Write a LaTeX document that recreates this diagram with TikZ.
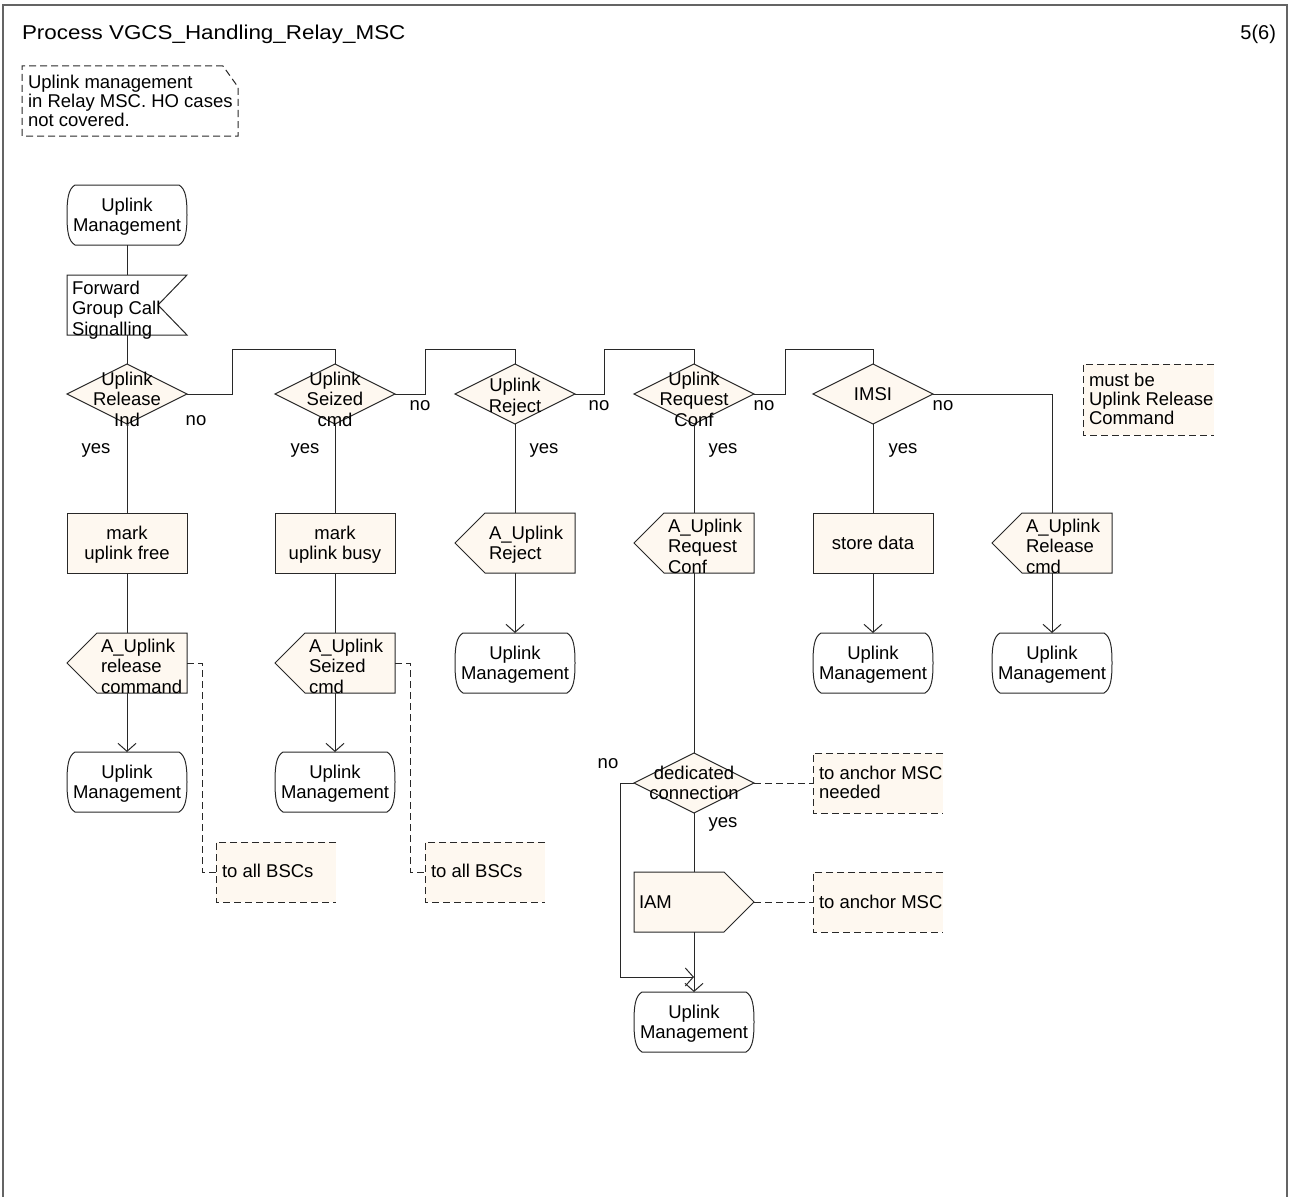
\documentclass[tikz,border=0pt]{standalone}
\usepackage{fontspec}
\setmainfont{Liberation Sans}
\newfontfamily\titlefnt{Liberation Sans}[FakeStretch=1.12]
\usetikzlibrary{arrows.meta,calc,backgrounds}
\definecolor{cream}{RGB}{254,248,240}
\definecolor{lc}{RGB}{40,40,40}
\definecolor{framegray}{RGB}{100,100,100}
\newcommand{\bodyfnt}{\fontsize{18.5}{20.5}\selectfont}
\newcommand{\cmtfnt}{\fontsize{18.5}{19.2}\selectfont}
\newcommand{\ctext}[2]{\raisebox{#1pt}[0pt][0pt]{\begin{tabular}[t]{@{}c@{}}#2\end{tabular}}}
\newcommand{\ltext}[4]{\makebox[#1pt][l]{\hspace*{#2pt}\raisebox{#3pt}[0pt][0pt]{\begin{tabular}[t]{@{}l@{}}#4\end{tabular}}}}
\begin{document}
\begin{tikzpicture}[x=1pt,y=-1pt,
  every node/.style={font=\bodyfnt, inner sep=0pt, outer sep=0pt, text=black},
  term/.style={minimum width=120, minimum height=60},
  task/.style={draw=lc, fill=cream, line width=1, minimum width=120, minimum height=60},
  dia/.style={minimum width=120, minimum height=60},
  sig/.style={minimum width=120, minimum height=60},
  cmt/.style={font=\cmtfnt},
  shp/.style={draw=lc, line width=1, fill=cream},
  wshp/.style={draw=lc, line width=1, fill=white},
  conn/.style={draw=lc, line width=1},
  arr/.style={conn, -{Straight Barb[length=8pt,width=18pt]}},
  cdash/.style={draw=lc, line width=1, dash pattern=on 7pt off 4pt},
  cfill/.style={fill=cream, draw=none},
]
\useasboundingbox (0,0) rectangle (1292,1196);
\draw[framegray, line width=1.5] (3,5) rectangle (1287,1230);

\node[anchor=base west, font=\titlefnt\fontsize{20}{24}\selectfont] (title) at (22,40) {Process VGCS\_Handling\_Relay\_MSC};
\node[anchor=base east, font=\fontsize{20}{24}\selectfont] (page) at (1276,40) {5(6)};

% note
\node[cmt, minimum width=216, minimum height=70] (note) at (130,101) {\ltext{216}{6}{12.7}{Uplink management\\in Relay MSC. HO cases\\not covered.}};

% column 1
\node[term] (s1) at (127,215) {\ctext{3.6}{Uplink\\Management}};
\node[sig] (in1) at (127,305) {\ltext{120}{5}{11}{Forward\\Group Call\\Signalling}};
\node[dia] (d1) at (127,394) {\ctext{9}{Uplink\\Release\\Ind}};
\node[task] (t1) at (127,543) {\ctext{3.6}{mark\\uplink free}};
\node[sig] (o1) at (127,663) {\ltext{120}{34}{11}{A\_Uplink\\release\\command}};
\node[term] (e1) at (127,782) {\ctext{3.6}{Uplink\\Management}};
\node[cmt, minimum width=120, minimum height=60] (cb1) at (276,872) {\ltext{120}{6}{-5.5}{to all BSCs}};

% column 2
\node[dia] (d2) at (335,394) {\ctext{9}{Uplink\\Seized\\cmd}};
\node[task] (t2) at (335,543) {\ctext{3.6}{mark\\uplink busy}};
\node[sig] (o2) at (335,663) {\ltext{120}{34}{11}{A\_Uplink\\Seized\\cmd}};
\node[term] (e2) at (335,782) {\ctext{3.6}{Uplink\\Management}};
\node[cmt, minimum width=120, minimum height=60] (cb2) at (485,872) {\ltext{120}{6}{-5.5}{to all BSCs}};

% column 3
\node[dia] (d3) at (515,394) {\ctext{2.3}{Uplink\\Reject}};
\node[sig] (o3) at (515,543) {\ltext{120}{34}{3.6}{A\_Uplink\\Reject}};
\node[term] (e3) at (515,663) {\ctext{3.6}{Uplink\\Management}};

% column 4
\node[dia] (d4) at (694,394) {\ctext{9}{Uplink\\Request\\Conf}};
\node[sig] (o4) at (694,543) {\ltext{120}{34}{11}{A\_Uplink\\Request\\Conf}};
\node[dia] (dd) at (694,783) {\ctext{3.6}{dedicated\\connection}};
\node[sig] (iam) at (694,902) {\ltext{120}{5}{-6}{IAM}};
\node[term] (e4) at (694,1022) {\ctext{3.6}{Uplink\\Management}};
\node[cmt, minimum width=130, minimum height=60] (cb3) at (878,783) {\ltext{130}{6}{3.3}{to anchor MSC\\needed}};
\node[cmt, minimum width=130, minimum height=60] (cb4) at (878,902) {\ltext{130}{6}{-6}{to anchor MSC}};

% column 5
\node[dia] (d5) at (873,394) {\ctext{-6}{IMSI}};
\node[task] (t5) at (873,543) {\ctext{-6.5}{store data}};
\node[term] (e5) at (873,663) {\ctext{3.6}{Uplink\\Management}};

% column 6
\node[sig] (o6) at (1052,543) {\ltext{120}{34}{11}{A\_Uplink\\Release\\cmd}};
\node[term] (e6) at (1052,663) {\ctext{3.6}{Uplink\\Management}};
\node[cmt, minimum width=131, minimum height=71] (cb5) at (1148.5,399.5) {\ltext{131}{6}{13}{must be\\Uplink Release\\Command}};

% labels
\node (yes1) at (96,450) {yes};
\node (yes2) at (305,450) {yes};
\node (yes3) at (544,450) {yes};
\node (yes4) at (723,450) {yes};
\node (yes5) at (903,450) {yes};
\node (yes6) at (723,824) {yes};
\node (no1) at (196,421) {no};
\node (no2) at (420,406) {no};
\node (no3) at (599,406) {no};
\node (no4) at (764,406) {no};
\node (no5) at (943,406) {no};
\node (no6) at (608,764) {no};

% shapes on background
\begin{scope}[on background layer]
  \fill[white] (0,0) rectangle (1292,1196);
  \foreach \n in {s1,e1,e2,e3,e4,e5,e6}{
    \draw[wshp] ($(\n.north west)+(8,0)$) -- ($(\n.north east)+(-8,0)$)
      .. controls ($(\n.north east)+(-1,4)$) and ($(\n.north east)+(0,15)$) .. ($(\n.east)$)
      .. controls ($(\n.south east)+(0,-15)$) and ($(\n.south east)+(-1,-4)$) .. ($(\n.south east)+(-8,0)$)
      -- ($(\n.south west)+(8,0)$)
      .. controls ($(\n.south west)+(1,-4)$) and ($(\n.south west)+(0,-15)$) .. ($(\n.west)$)
      .. controls ($(\n.north west)+(0,15)$) and ($(\n.north west)+(1,4)$) .. cycle;
  }
  \foreach \n in {d1,d2,d3,d4,d5,dd}{
    \draw[shp] (\n.west) -- (\n.north) -- (\n.east) -- (\n.south) -- cycle;
  }
  \foreach \n in {o1,o2,o3,o4,o6}{
    \draw[shp] (\n.west) -- ($(\n.north west)+(30,0)$) -- (\n.north east) -- (\n.south east) -- ($(\n.south west)+(30,0)$) -- cycle;
  }
  \draw[wshp] (in1.north west) -- (in1.north east) -- ($(in1.east)+(-29,0)$) -- (in1.south east) -- (in1.south west) -- cycle;
  \draw[shp] (iam.north west) -- ($(iam.north east)+(-30,0)$) -- (iam.east) -- ($(iam.south east)+(-30,0)$) -- (iam.south west) -- cycle;
  \foreach \n in {cb1,cb2,cb3,cb4,cb5}{
    \fill[cfill] (\n.north west) rectangle (\n.south east);
    \draw[cdash] (\n.north east) -- (\n.north west) -- (\n.south west) -- (\n.south east);
  }
  \draw[cdash] ($(note.north east)+(-15,0)$) -- (note.north west) -- (note.south west) -- (note.south east) -- ($(note.north east)+(0,21)$) -- cycle;
\end{scope}

% connectors
\draw[conn] (s1.south) -- (in1.north);
\draw[conn] (in1.south) -- (d1.north);
\draw[conn] (d1.south) -- (t1.north);
\draw[conn] (t1.south) -- (o1.north);
\draw[arr] (o1.south) -- (e1.north);
\draw[conn] (d1.east) -- ++(45,0) |- ($(d2.north)+(0,-15)$) -- (d2.north);

\draw[conn] (d2.south) -- (t2.north);
\draw[conn] (t2.south) -- (o2.north);
\draw[arr] (o2.south) -- (e2.north);
\draw[conn] (d2.east) -- ++(30,0) |- ($(d3.north)+(0,-15)$) -- (d3.north);

\draw[conn] (d3.south) -- (o3.north);
\draw[arr] (o3.south) -- (e3.north);
\draw[conn] (d3.east) -- ++(29,0) |- ($(d4.north)+(0,-15)$) -- (d4.north);

\draw[conn] (d4.south) -- (o4.north);
\draw[conn] (o4.south) -- (dd.north);
\draw[conn] (dd.south) -- (iam.north);
\draw[arr] (iam.south) -- (e4.north);
\coordinate (join) at ($(e4.north)+(0,-15)$);
\draw[arr] (dd.west) -- ++(-14,0) |- (join);
\draw[conn] (d4.east) -- ++(31,0) |- ($(d5.north)+(0,-15)$) -- (d5.north);

\draw[conn] (d5.south) -- (t5.north);
\draw[arr] (t5.south) -- (e5.north);
\draw[conn] (d5.east) -| (o6.north);
\draw[arr] (o6.south) -- (e6.north);

% comment connectors
\draw[cdash] (o1.east) -- ++(15,0) |- (cb1.west);
\draw[cdash] (o2.east) -- ++(15,0) |- (cb2.west);
\draw[cdash] (dd.east) -- (cb3.west);
\draw[cdash] (iam.east) -- (cb4.west);
\end{tikzpicture}
\end{document}
